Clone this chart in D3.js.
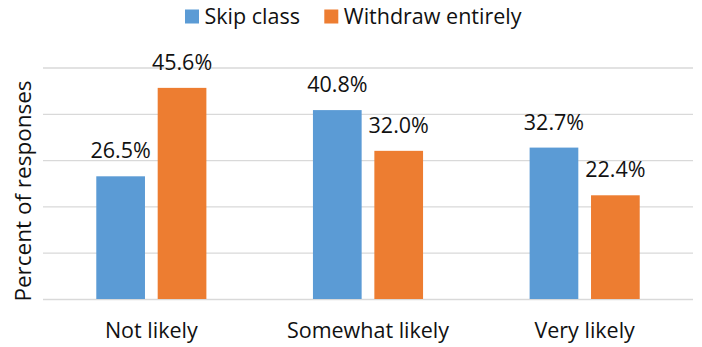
<!DOCTYPE html>
<html>
<head>
<meta charset="utf-8">
<script src="https://cdn.jsdelivr.net/npm/d3@7"></script>
<style>
  html, body { margin: 0; padding: 0; background: #fff; }
  svg { display: block; font-family: "Open Sans", "Noto Sans", sans-serif; }
</style>
</head>
<body>
<svg id="chart" width="702" height="347"></svg>
<script>
// Survey responses: likelihood of skipping class vs. withdrawing entirely
const categories = ["Not likely", "Somewhat likely", "Very likely"];
const seriesNames = ["Skip class", "Withdraw entirely"];
const skipClass = [26.5, 40.8, 32.7];
const withdrawEntirely = [45.6, 32.0, 22.4];
const yTicks = [0, 10, 20, 30, 40, 50];

const colors = ["#5b9bd5", "#ed7d31"];
const seriesValues = [skipClass, withdrawEntirely];
const fontSize = 21.5;

const svg = d3.select("#chart");
const plot = { left: 43, right: 693, top: 67.5, bottom: 299 };

const x = d3.scaleBand().domain(categories).range([plot.left, plot.right]).padding(0);
const groupWidth = 110.1;
const xInner = d3.scaleBand().domain(seriesNames).range([0, groupWidth]).paddingInner(0.207);
const y = d3.scaleLinear().domain([0, 50]).range([plot.bottom, plot.top]);

// Horizontal gridlines
svg.append("g")
  .attr("transform", `translate(${plot.left},0)`)
  .call(d3.axisLeft(y).tickValues(yTicks).tickSize(-(plot.right - plot.left)).tickFormat(""))
  .call(g => g.select(".domain").remove())
  .call(g => g.selectAll(".tick line").attr("stroke", "#d9d9d9").attr("stroke-width", 1.3));

// Bars
const groups = svg.append("g").selectAll("g")
  .data(categories)
  .join("g")
  .attr("transform", d => `translate(${x(d) + (x.bandwidth() - groupWidth) / 2},0)`);

const rows = i => seriesNames.map((s, k) => ({ series: s, k, value: seriesValues[k][i] }));

groups.each(function (cat, i) {
  const g = d3.select(this);
  const data = rows(i);
  g.selectAll("rect")
    .data(data)
    .join("rect")
    .attr("x", d => xInner(d.series))
    .attr("width", xInner.bandwidth())
    .attr("y", d => y(d.value))
    .attr("height", d => y(0) - y(d.value))
    .attr("fill", d => colors[d.k]);
  g.selectAll("text")
    .data(data)
    .join("text")
    .attr("x", d => xInner(d.series) + xInner.bandwidth() / 2)
    .attr("y", d => y(d.value) - 18)
    .attr("text-anchor", "middle")
    .attr("font-size", fontSize)
    .attr("fill", "#111")
    .text(d => d.value.toFixed(1) + "%");
});

// Category labels
svg.append("g").selectAll("text")
  .data(categories)
  .join("text")
  .attr("x", d => x(d) + x.bandwidth() / 2)
  .attr("y", 337.5)
  .attr("text-anchor", "middle")
  .attr("font-size", fontSize)
  .attr("fill", "#111")
  .text(d => d);

// Y axis title
svg.append("text")
  .attr("transform", "translate(31,191) rotate(-90)")
  .attr("text-anchor", "middle")
  .attr("font-size", 22.5)
  .attr("fill", "#111")
  .text("Percent of responses");

// Legend
const legend = svg.append("g");
const legendX = [185, 324.3];
seriesNames.forEach((name, k) => {
  legend.append("rect")
    .attr("x", legendX[k]).attr("y", 9.5)
    .attr("width", 14).attr("height", 14)
    .attr("fill", colors[k]);
  legend.append("text")
    .attr("x", legendX[k] + 19.5).attr("y", 23.5)
    .attr("font-size", fontSize)
    .attr("fill", "#111")
    .text(name);
});
</script>
</body>
</html>
